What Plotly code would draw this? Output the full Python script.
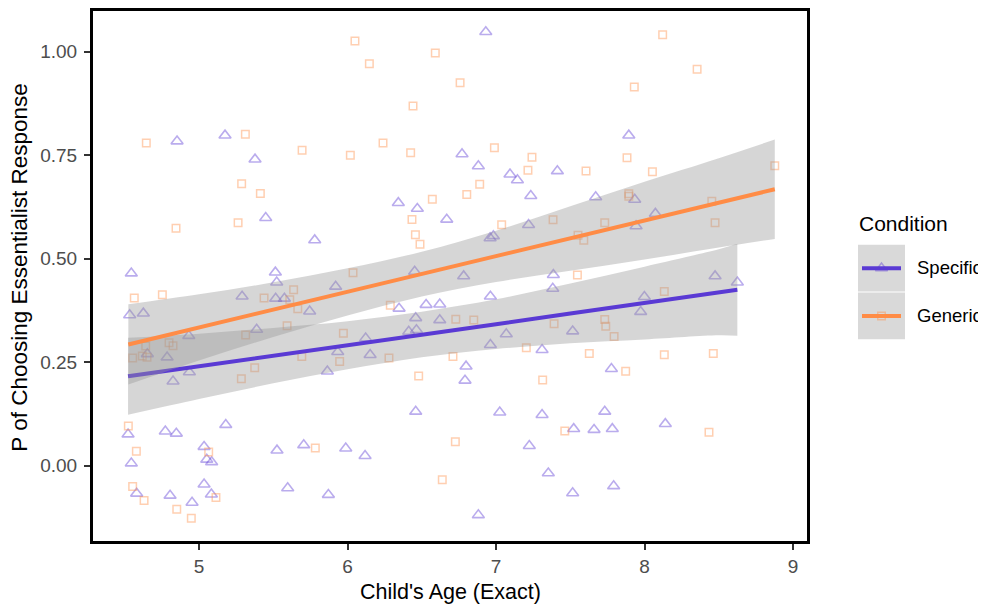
import plotly.graph_objects as go

# ---------------- data ----------------
spec_x = [4.852, 5.175, 5.377, 6.931, 6.771, 6.881, 7.094, 7.144, 7.413, 7.894,
          5.449, 5.779, 4.544, 5.514, 5.523, 5.290, 5.516, 5.575, 5.745, 4.533,
          4.625, 5.388, 4.931, 4.652, 4.785, 4.935, 5.920, 6.342, 6.470, 7.234,
          6.668, 6.960, 6.982, 7.219, 6.452, 6.782, 7.386, 7.382, 6.962, 6.347,
          6.529, 6.621, 6.459, 6.621, 6.412, 6.464, 6.122, 7.069, 7.516, 5.934,
          6.152, 6.962, 7.310, 6.798, 7.671, 7.934, 8.073, 7.943, 8.475, 8.625,
          7.999, 7.974, 7.777, 4.825, 5.864, 4.522, 4.773, 4.847, 5.180, 4.544,
          5.034, 5.052, 5.085, 5.525, 5.705, 4.580, 4.805, 4.953, 5.034, 5.083,
          5.597, 5.871, 6.791, 6.459, 7.025, 7.310, 7.523, 5.988, 6.118, 7.224,
          7.352, 6.881, 7.516, 7.732, 7.660, 7.783, 8.140, 7.792]
spec_y = [0.784, 0.798, 0.740, 1.048, 0.753, 0.724, 0.704, 0.690, 0.712, 0.798,
          0.599, 0.545, 0.465, 0.467, 0.443, 0.409, 0.404, 0.404, 0.373, 0.364,
          0.368, 0.329, 0.314, 0.270, 0.262, 0.226, 0.433, 0.635, 0.621, 0.652,
          0.595, 0.550, 0.555, 0.582, 0.469, 0.458, 0.461, 0.428, 0.409, 0.380,
          0.389, 0.390, 0.357, 0.352, 0.324, 0.328, 0.308, 0.318, 0.325, 0.275,
          0.268, 0.292, 0.280, 0.240, 0.649, 0.643, 0.609, 0.579, 0.458, 0.443,
          0.408, 0.372, 0.234, 0.204, 0.228, 0.076, 0.083, 0.078, 0.099, 0.006,
          0.046, 0.015, 0.009, 0.037, 0.050, -0.067, -0.072, -0.089, -0.045, -0.069,
          -0.054, -0.070, 0.206, 0.131, 0.129, 0.123, 0.089, 0.042, 0.024, 0.048,
          -0.018, -0.119, -0.066, 0.131, 0.087, 0.089, 0.101, -0.049]

gen_x = [4.645, 5.312, 5.694, 5.287, 5.413, 6.050, 6.591, 6.147, 6.758, 6.441,
         6.239, 6.019, 6.425, 6.989, 7.242, 7.215, 6.890, 8.122, 8.354, 7.931,
         7.882, 7.606, 8.053, 8.877, 5.263, 4.845, 4.564, 4.753, 5.637, 5.438,
         5.611, 5.665, 5.593, 5.314, 4.641, 4.798, 4.825, 4.553, 4.618, 4.650,
         5.692, 5.375, 6.571, 6.803, 6.434, 6.457, 6.488, 7.038, 7.384, 6.037,
         6.288, 6.729, 6.850, 7.391, 5.972, 6.279, 7.204, 5.947, 6.710, 7.894,
         7.894, 8.453, 7.732, 8.475, 7.552, 7.591, 7.548, 8.133, 7.732, 7.739,
         7.795, 7.628, 8.133, 8.463, 5.285, 4.524, 4.578, 5.065, 5.783, 4.553,
         4.630, 4.850, 4.948, 5.114, 6.479, 7.314, 7.463, 6.726, 6.638, 7.873,
         8.434]
gen_y = [0.780, 0.801, 0.762, 0.681, 0.658, 1.026, 0.997, 0.971, 0.925, 0.869,
         0.780, 0.750, 0.756, 0.768, 0.745, 0.714, 0.680, 1.041, 0.958, 0.915,
         0.744, 0.712, 0.710, 0.725, 0.587, 0.574, 0.405, 0.413, 0.425, 0.405,
         0.401, 0.379, 0.338, 0.316, 0.289, 0.297, 0.290, 0.260, 0.265, 0.262,
         0.264, 0.237, 0.644, 0.655, 0.595, 0.558, 0.535, 0.582, 0.594, 0.466,
         0.388, 0.354, 0.352, 0.343, 0.320, 0.260, 0.285, 0.252, 0.264, 0.657,
         0.651, 0.639, 0.587, 0.587, 0.557, 0.545, 0.461, 0.421, 0.353, 0.337,
         0.312, 0.271, 0.268, 0.271, 0.210, 0.096, 0.035, 0.033, 0.043, -0.050,
         -0.084, -0.105, -0.127, -0.077, 0.217, 0.207, 0.084, 0.058, -0.034, 0.228,
         0.081]

# fitted lines and 95% bands
spec_fit_x = [4.522, 5.0, 5.5, 6.0, 6.5, 7.0, 7.5, 8.0, 8.5, 8.625]
spec_fit = [0.216, 0.240, 0.266, 0.291, 0.317, 0.342, 0.368, 0.393, 0.419, 0.425]
spec_lo = [0.123, 0.161, 0.199, 0.233, 0.262, 0.282, 0.296, 0.305, 0.315, 0.314]
spec_hi = [0.309, 0.319, 0.333, 0.349, 0.372, 0.402, 0.440, 0.481, 0.523, 0.536]

gen_fit_x = [4.524, 5.0, 5.5, 6.0, 6.5, 7.0, 7.5, 8.0, 8.5, 8.877]
gen_fit = [0.293, 0.334, 0.377, 0.420, 0.463, 0.506, 0.549, 0.592, 0.635, 0.668]
gen_lo = [0.196, 0.254, 0.311, 0.363, 0.409, 0.444, 0.471, 0.498, 0.527, 0.548]
gen_hi = [0.390, 0.414, 0.443, 0.477, 0.517, 0.568, 0.627, 0.686, 0.743, 0.788]

x_ticks = [5, 6, 7, 8, 9]
y_ticks = [0.0, 0.25, 0.5, 0.75, 1.0]
y_tick_labels = ["0.00", "0.25", "0.50", "0.75", "1.00"]
groups = ["Specific", "Generic"]

# ---------------- styling ----------------
W, H = 986, 606
OFF = 8  # the page body adds an 8px margin; positions below are screen pixels
FONT = "Liberation Sans, Arial, Helvetica, sans-serif"
SPEC_COL = "#5a3ad4"
GEN_COL = "#ff8c46"
SPEC_PT = "rgba(90,58,212,0.42)"
GEN_PT = "rgba(255,140,70,0.42)"
BAND = "rgba(153,153,153,0.4)"

pl, pr, pt, pb = 93, 807, 8, 541  # panel edges in screen pixels


def px(x):
    return (x - OFF) / W


def py(y):
    return 1 - (y - OFF) / H


fig = go.Figure()

fig.add_trace(go.Scatter(x=spec_x, y=spec_y, mode="markers", showlegend=False,
                         marker=dict(symbol="triangle-up-open", size=10.5, color=SPEC_PT,
                                     line=dict(width=1.6, color=SPEC_PT))))
fig.add_trace(go.Scatter(x=gen_x, y=gen_y, mode="markers", showlegend=False,
                         marker=dict(symbol="square-open", size=7.5, color=GEN_PT,
                                     line=dict(width=1.5, color=GEN_PT))))


def add_smooth(xs, fit, lo, hi, col):
    fig.add_trace(go.Scatter(x=xs, y=lo, mode="lines", line=dict(width=0, shape="spline"),
                             showlegend=False, hoverinfo="skip"))
    fig.add_trace(go.Scatter(x=xs, y=hi, mode="lines", line=dict(width=0, shape="spline"),
                             fill="tonexty", fillcolor=BAND, showlegend=False, hoverinfo="skip"))
    fig.add_trace(go.Scatter(x=xs, y=fit, mode="lines", line=dict(width=4, color=col),
                             showlegend=False))


add_smooth(spec_fit_x, spec_fit, spec_lo, spec_hi, SPEC_COL)
add_smooth(gen_fit_x, gen_fit, gen_lo, gen_hi, GEN_COL)

# ---------------- manual legend ----------------
key_l, key_r = 858, 905
key_tops = [243, 291]
key_h = 47
shapes = []
for i, g in enumerate(groups):
    shapes.append(dict(type="rect", xref="paper", yref="paper", layer="below",
                       x0=px(key_l), x1=px(key_r), y0=py(key_tops[i] + key_h), y1=py(key_tops[i]),
                       fillcolor="#d9d9d9", line=dict(width=0)))

leg_cols = [SPEC_COL, GEN_COL]
leg_pts = [SPEC_PT, GEN_PT]
leg_sym = ["triangle-up-open", "square-open"]
leg_size = [10.5, 7.5]
for i, g in enumerate(groups):
    cy = key_tops[i] + key_h / 2 - OFF
    cx = (key_l + key_r) / 2 - OFF
    fig.add_trace(go.Scatter(x=[cx], y=[cy], xaxis="x2", yaxis="y2",
                             mode="markers", showlegend=False, hoverinfo="skip",
                             marker=dict(symbol=leg_sym[i], size=leg_size[i], color=leg_pts[i],
                                         line=dict(width=1.5, color=leg_pts[i]))))
    fig.add_trace(go.Scatter(x=[key_l + 4 - OFF, key_r - 4 - OFF], y=[cy, cy], xaxis="x2", yaxis="y2",
                             mode="lines", showlegend=False, hoverinfo="skip",
                             line=dict(width=4, color=leg_cols[i])))

annotations = [
    dict(text="Condition", x=px(857), y=py(222), xref="paper", yref="paper",
         xanchor="left", yanchor="middle", showarrow=False,
         font=dict(family=FONT, size=21, color="black")),
    dict(text="Specific", x=px(915), y=py(266), xref="paper", yref="paper",
         xanchor="left", yanchor="middle", showarrow=False,
         font=dict(family=FONT, size=18.5, color="black")),
    dict(text="Generic", x=px(915), y=py(314), xref="paper", yref="paper",
         xanchor="left", yanchor="middle", showarrow=False,
         font=dict(family=FONT, size=18.5, color="black")),
    dict(text="Child's Age (Exact)", x=px((pl + pr) / 2), y=py(592), xref="paper", yref="paper",
         xanchor="center", yanchor="middle", showarrow=False,
         font=dict(family=FONT, size=21.5, color="black")),
    dict(text="P of Choosing Essentialist Response", x=px(20), y=py(266),
         xref="paper", yref="paper", xanchor="center", yanchor="middle", showarrow=False,
         textangle=-90, borderpad=0, font=dict(family=FONT, size=22.5, color="black")),
]

fig.update_layout(
    width=W, height=H,
    margin=dict(l=0, r=0, t=0, b=0),
    paper_bgcolor="white", plot_bgcolor="rgba(0,0,0,0)",
    showlegend=False,
    font=dict(family=FONT),
    shapes=shapes, annotations=annotations,
    xaxis=dict(domain=[px(pl), px(pr)], range=[4.286, 9.094], tickvals=x_ticks,
               showgrid=False, zeroline=False, showline=True, mirror=True,
               linecolor="black", linewidth=3, ticks="outside", ticklen=6, tickwidth=1.5,
               tickcolor="#333333", tickfont=dict(family=FONT, size=19, color="#4d4d4d")),
    yaxis=dict(domain=[py(pb), py(pt)], range=[-0.1827, 1.0986], tickvals=y_ticks,
               ticktext=y_tick_labels, ticklabelstandoff=3,
               showgrid=False, zeroline=False, showline=True, mirror=True,
               linecolor="black", linewidth=3, ticks="outside", ticklen=6, tickwidth=1.5,
               tickcolor="#333333", tickfont=dict(family=FONT, size=19, color="#4d4d4d")),
    xaxis2=dict(domain=[0, 1], range=[0, W], visible=False, anchor="y2"),
    yaxis2=dict(domain=[0, 1], range=[H, 0], visible=False, anchor="x2"),
)

fig.write_html("out.html")
